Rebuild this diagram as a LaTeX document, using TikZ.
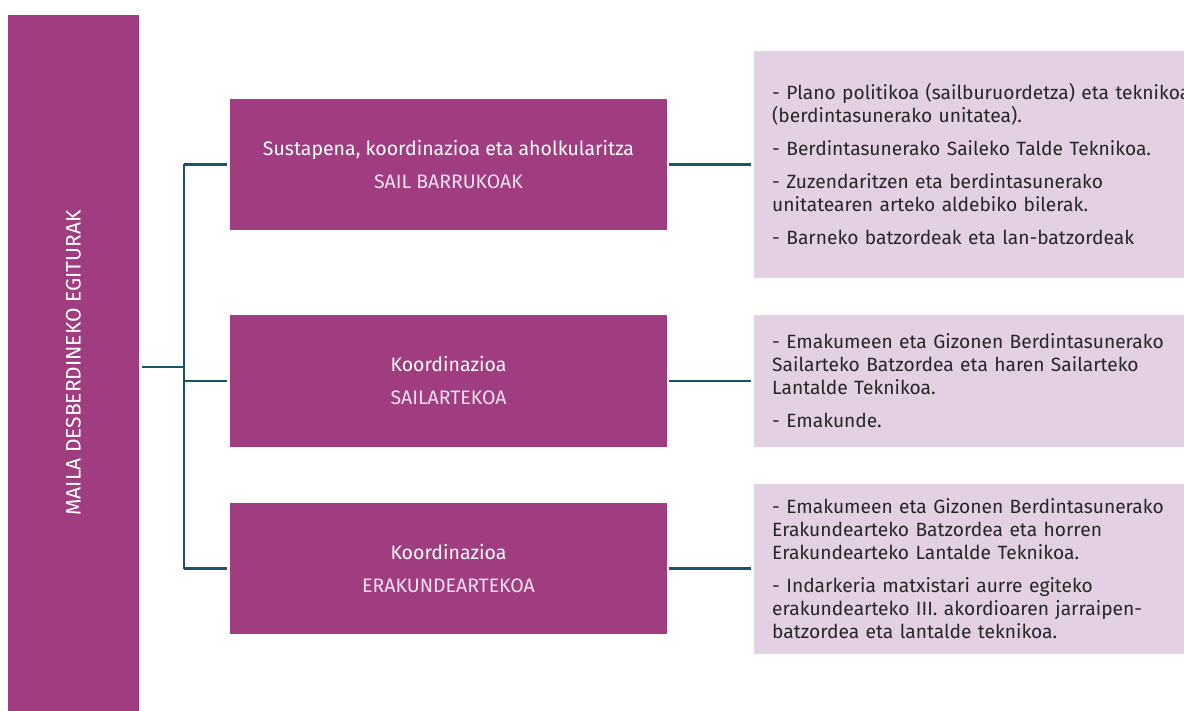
\documentclass[tikz,border=0pt]{standalone}
\usepackage{fontspec}
\setmainfont{Fira Sans}
\newfontfamily\lightfont{Fira Sans}
\usetikzlibrary{positioning}
\definecolor{plum}{HTML}{9F3D80}
\definecolor{lilac}{HTML}{E3D1E3}
\definecolor{linkblue}{HTML}{1A5370}
\definecolor{subpink}{HTML}{F2E1EE}
\definecolor{bodygray}{HTML}{262626}

\begin{document}
\begin{tikzpicture}[x=1pt, y=-1pt,
    bar/.style={rectangle, fill=plum, rotate=90, minimum width=696pt, minimum height=131pt, text=white, font=\lightfont\fontsize{21}{24}\selectfont},
    levelbox/.style={rectangle, fill=plum, minimum width=437pt, minimum height=131pt, align=center, text=white, font=\fontsize{19.5}{22}\selectfont},
    notebox/.style={rectangle, fill=lilac, anchor=west, text width=480pt, inner xsep=18pt, align=left, text=bodygray, font=\fontsize{19.2}{23}\selectfont},
    link/.style={draw=linkblue, line width=2.5pt}
]
\useasboundingbox (0,0) rectangle (1184,711);
\clip (0,0) rectangle (1184,711);

\node[bar] (maila) at (73.5,363) {MAILA DESBERDINEKO EGITURAK};

\node[levelbox] (sail) at (448.5,164.5) {Sustapena, koordinazioa eta aholkularitza\\[11pt]{\lightfont\color{subpink}SAIL BARRUKOAK}};
\node[levelbox] (sailarte) at (448.5,381) {Koordinazioa\\[11pt]{\lightfont\color{subpink}SAILARTEKOA}};
\node[levelbox] (erakarte) at (448.5,568.5) {Koordinazioa\\[11pt]{\lightfont\color{subpink}ERAKUNDEARTEKOA}};

\node[notebox, minimum height=227pt] (sailnote) at (754,164.5) {- Plano politikoa (sailburuordetza) eta teknikoa\\
(berdintasunerako unitatea).\\[10pt]
- Berdintasunerako Saileko Talde Teknikoa.\\[10pt]
- Zuzendaritzen eta berdintasunerako\\
unitatearen arteko aldebiko bilerak.\\[10pt]
- Barneko batzordeak eta lan-batzordeak};
\node[notebox, minimum height=132pt] (sailartenote) at (754,381) {- Emakumeen eta Gizonen Berdintasunerako\\
Sailarteko Batzordea eta haren Sailarteko\\
Lantalde Teknikoa.\\[10pt]
- Emakunde.};
\node[notebox, minimum height=170pt] (erakartenote) at (754,568.5) {- Emakumeen eta Gizonen Berdintasunerako\\
Erakundearteko Batzordea eta horren\\
Erakundearteko Lantalde Teknikoa.\\[10pt]
- Indarkeria matxistari aurre egiteko\\
erakundearteko III. akordioaren jarraipen-\\
batzordea eta lantalde teknikoa.};

\coordinate (hub) at (184,367);
\draw[link, shorten <=3pt] (maila.south |- hub) -- (hub);
\draw[link] (hub |- sail.west) -- (hub |- erakarte.west);
\draw[link, shorten >=3pt] (hub |- sail.west) -- (sail.west);
\draw[link, shorten >=3pt] (hub |- sailarte.west) -- (sailarte.west);
\draw[link, shorten >=3pt] (hub |- erakarte.west) -- (erakarte.west);
\draw[link, shorten <=2pt, shorten >=3pt] (sail.east) -- (sailnote.west);
\draw[link, shorten <=2pt, shorten >=3pt] (sailarte.east) -- (sailartenote.west);
\draw[link, shorten <=2pt, shorten >=3pt] (erakarte.east) -- (erakartenote.west);
\end{tikzpicture}
\end{document}
